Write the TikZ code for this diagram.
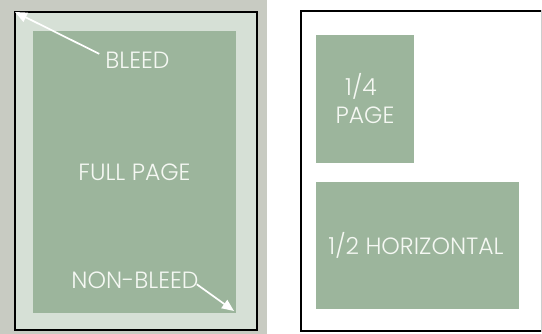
\documentclass[tikz,border=0pt]{standalone}
\usepackage{fontspec}
\setmainfont{Poppins}[UprightFont=* Light]
\usetikzlibrary{arrows.meta}
\definecolor{outergrey}{RGB}{200,203,194}
\definecolor{paleg}{RGB}{214,224,214}
\definecolor{sage}{RGB}{156,181,156}
\definecolor{txtw}{RGB}{245,248,243}
\definecolor{edgegrey}{RGB}{205,205,205}
\tikzset{
  box/.style={anchor=north west, inner sep=0pt, outer sep=0pt},
  lbl/.style={anchor=base, inner sep=0pt, text=txtw, font=\fontsize{23.5}{26}\selectfont},
  pointer/.style={draw=white, line width=1.7pt, -{Triangle[length=12pt,width=10pt]}},
}
\begin{document}
\begin{tikzpicture}[x=1pt,y=-1pt]
\useasboundingbox (0,0) rectangle (542,334);
% left panel
\fill[outergrey] (0,0) rectangle (267,334);
\node[box, fill=paleg, draw=black, line width=2pt, minimum width=242pt, minimum height=318pt] (bleedpage) at (15,12) {};
\node[box, fill=sage, minimum width=203pt, minimum height=282pt] (fullpage) at (33,31) {};
\node[lbl] (bleed) at (137.5,68.5) {BLEED};
\node[lbl] (fulltxt) at (134.5,180.5) {FULL PAGE};
\node[lbl] (nonbleed) at (135,288.5) {NON-BLEED};
\coordinate (bleedtip) at (15,12);
\coordinate (nonbleedtip) at (234,311);
\draw[pointer] ([xshift=-6pt,yshift=-2pt]bleed.north west) -- (bleedtip);
\draw[pointer] ([xshift=-2pt,yshift=-4pt]nonbleed.east) -- (nonbleedtip);
% right panel
\fill[white] (267,0) rectangle (542,334);
\draw[black, line width=2pt] (541,11) -- (301,11) -- (301,331) -- (541,331);
\draw[edgegrey, line width=1pt] (541.5,10) -- (541.5,332);
\node[box, fill=sage, minimum width=98pt, minimum height=128pt] (quarter) at (316,35) {};
\node[lbl] (q1) at (361,95.5) {1/4};
\node[lbl] (q2) at (365,123.5) {PAGE};
\node[box, fill=sage, minimum width=203pt, minimum height=127pt] (half) at (316,182) {};
\node[lbl] (htxt) at (416,254.5) {1/2 HORIZONTAL};
\end{tikzpicture}
\end{document}
